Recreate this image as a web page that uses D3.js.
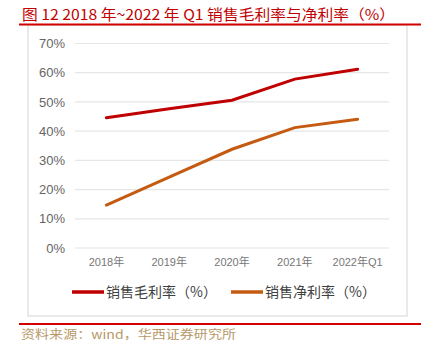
<!DOCTYPE html>
<html><head><meta charset="utf-8">
<script src="https://cdn.jsdelivr.net/npm/d3@7"></script>
<style>body{margin:0;background:#fff}svg{display:block}</style>
</head><body>
<svg id="c" width="439" height="351"></svg>
<script>
const categories = ["2018年","2019年","2020年","2021年","2022年Q1"];
const grossMargin = [44.6, 47.7, 50.6, 57.8, 61.2];
const netMargin = [14.7, 24.3, 33.8, 41.2, 44.1];
const yTicks = [0,10,20,30,40,50,60,70];
const seriesNames = ["销售毛利率（%）","销售净利率（%）"];
const colors = ["#C00000","#C55A11"];

const svg = d3.select("#c");
const font = "'Noto Sans CJK SC', 'Noto Sans', sans-serif";
const numFont = "'Liberation Sans', 'Noto Sans CJK SC', sans-serif";

// title
svg.append("text").attr("x",22).attr("y",20).attr("fill","#C00000")
  .attr("font-family",font).attr("font-size",14.5)
  .attr("textLength",373).attr("lengthAdjust","spacingAndGlyphs")
  .text("图 12 2018 年~2022 年 Q1 销售毛利率与净利率（%）");

// box
svg.append("rect").attr("x",28).attr("y",25).attr("width",379).attr("height",291)
  .attr("fill","none").attr("stroke","#e3e3e3").attr("stroke-width",1.5);
svg.append("line").attr("x1",19).attr("x2",421).attr("y1",24.5).attr("y2",24.5)
  .attr("stroke","#D20000").attr("stroke-width",2);
svg.append("line").attr("x1",19).attr("x2",421).attr("y1",324).attr("y2",324)
  .attr("stroke","#D20000").attr("stroke-width",2);

// source
svg.append("text").attr("x",21).attr("y",339).attr("fill","#B8996A")
  .attr("font-family",font).attr("font-size",12)
  .attr("textLength",215).attr("lengthAdjust","spacingAndGlyphs")
  .text("资料来源：wind，华西证券研究所");

const x = d3.scaleBand().domain(categories).range([75,389]);
const y = d3.scaleLinear().domain([0,70]).range([248,43.5]);

const grid = svg.append("g");
grid.selectAll("line").data(yTicks).join("line")
  .attr("x1",75).attr("x2",389).attr("y1",d=>y(d)).attr("y2",d=>y(d))
  .attr("stroke","#e6e6e6").attr("stroke-width",1.2);

const yAxis = svg.append("g").attr("transform","translate(75,0)")
  .call(d3.axisLeft(y).tickValues(yTicks).tickFormat(d=>d+"%").tickSize(0).tickPadding(10));
yAxis.select(".domain").remove();
yAxis.selectAll("text").attr("font-family",numFont).attr("font-size",13).attr("fill","#666");

const xAxis = svg.append("g").attr("transform","translate(0,248)")
  .call(d3.axisBottom(x).tickSize(0).tickPadding(10));
xAxis.select(".domain").remove();
xAxis.selectAll("text").attr("font-family",numFont).attr("font-size",11).attr("fill","#777");

const line = d3.line().x((d,i)=>x(categories[i])+x.bandwidth()/2).y(d=>y(d));
[grossMargin, netMargin].forEach((s,k)=>{
  svg.append("path").datum(s).attr("d",line).attr("fill","none")
    .attr("stroke",colors[k]).attr("stroke-width",3).attr("stroke-linecap","round");
});

// legend
const lg = [{x:72, tx:106},{x:231, tx:265}];
lg.forEach((p,k)=>{
  svg.append("line").attr("x1",p.x).attr("x2",p.x+32).attr("y1",292).attr("y2",292)
    .attr("stroke",colors[k]).attr("stroke-width",3.5);
  svg.append("text").attr("x",p.tx).attr("y",297).attr("fill","#404040")
    .attr("font-family",font).attr("font-size",14).text(seriesNames[k]);
});
</script>
</body></html>
